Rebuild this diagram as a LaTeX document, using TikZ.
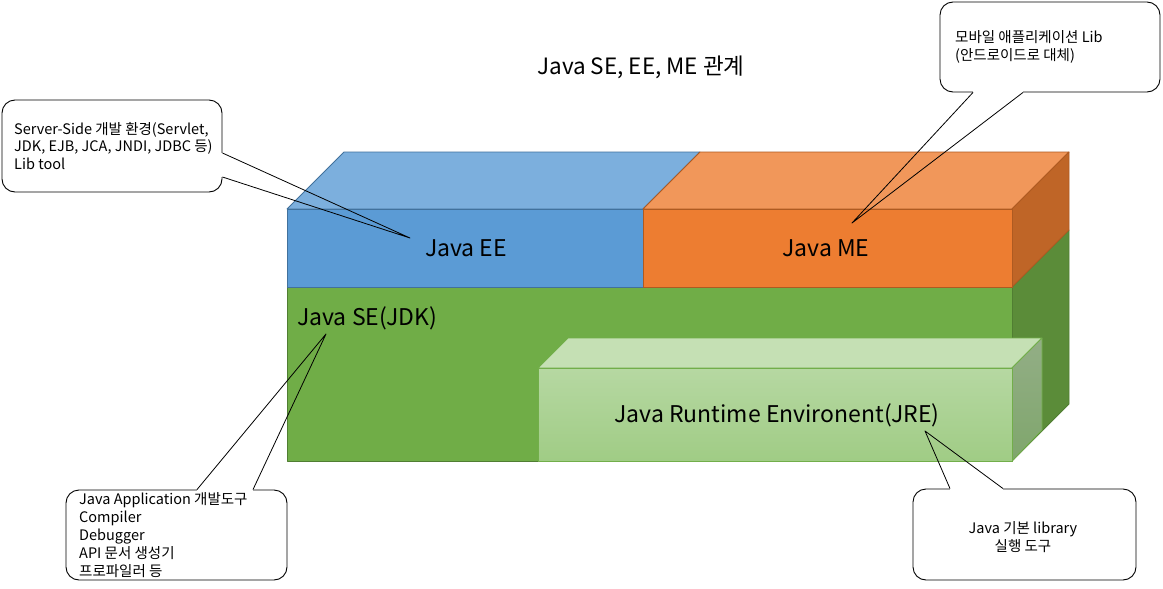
\documentclass[tikz,border=0pt]{standalone}
\usepackage{fontspec}
\setmainfont{Noto Sans CJK KR}
\usetikzlibrary{calc}
\definecolor{eefront}{HTML}{5B9BD5}
\definecolor{eetop}{HTML}{7CAFDD}
\definecolor{eeborder}{HTML}{41719C}
\definecolor{mefront}{HTML}{ED7D31}
\definecolor{metop}{HTML}{F1975A}
\definecolor{meside}{HTML}{BF6527}
\definecolor{meborder}{HTML}{AE5A21}
\definecolor{sefront}{HTML}{70AD47}
\definecolor{seside}{HTML}{5B8C39}
\definecolor{seborder}{HTML}{507E32}
\definecolor{jretopface}{HTML}{C5E0B4}
\definecolor{jrefrontA}{HTML}{B6D8A2}
\definecolor{jrefrontB}{HTML}{A0CC85}
\definecolor{jresideA}{HTML}{93AE86}
\definecolor{jresideB}{HTML}{7FA66C}
\definecolor{jreborder}{HTML}{72AE4A}
\begin{document}
\begin{tikzpicture}[x=1pt,y=-1pt,line join=round,
  face/.style={line width=0.8pt},
  lbl/.style={font=\fontsize{23}{27}\selectfont, inner sep=0pt, text=black},
  cbox/.style={draw=black, line width=0.9pt, fill=white, rounded corners=13pt, inner sep=0pt},
  ctext/.style={align=left, inner sep=0pt, font=\fontsize{14.5}{17.8}\selectfont, text=black},
  tail/.style={draw=black, line width=0.8pt}]
\useasboundingbox (0,0) rectangle (1163,589);
\fill[white] (0,0) rectangle (1163,589);

% Java SE box
\filldraw[face, fill=seside, draw=seborder] (1012,287) -- (1069,230) -- (1069,404) -- (1012,461) -- cycle;
\filldraw[face, fill=sefront, draw=seborder] (287,287) rectangle (1012,461);

% JRE box
\filldraw[face, fill=jretopface, draw=jreborder] (538,368) -- (568,338) -- (1042,338) -- (1012,368) -- cycle;
\shade[top color=jresideA, bottom color=jresideB] (1012,368) -- (1042,338) -- (1042,430) -- (1012,461) -- cycle;
\draw[face, draw=jreborder] (1012,368) -- (1042,338) -- (1042,430) -- (1012,461) -- cycle;
\shade[top color=jrefrontA, bottom color=jrefrontB] (538,368) rectangle (1012,461);
\draw[face, draw=jreborder] (538,368) rectangle (1012,461);

% Java EE box
\filldraw[face, fill=eetop, draw=eeborder] (287,209) -- (344,152) -- (700,152) -- (643,209) -- cycle;
\filldraw[face, fill=eefront, draw=eeborder] (287,209) rectangle (643,287);

% Java ME box
\filldraw[face, fill=metop, draw=meborder] (643,209) -- (700,152) -- (1069,152) -- (1012,209) -- cycle;
\filldraw[face, fill=meside, draw=meborder] (1012,209) -- (1069,152) -- (1069,230) -- (1012,287) -- cycle;
\filldraw[face, fill=mefront, draw=meborder] (643,209) rectangle (1012,287);

% labels
\node[font=\fontsize{22.5}{26}\selectfont, inner sep=0pt] (title) at (641,67) {Java SE, EE, ME 관계};
\node[lbl] (ee) at (466,248) {Java EE};
\node[lbl] (me) at (826,248) {Java ME};
\node[lbl, anchor=west] (se) at (297,318) {Java SE(JDK)};
\node[lbl] (jre) at (777,415) {Java Runtime Environent(JRE)};

% tail tips
\coordinate (eetip) at (410,238);
\coordinate (metip) at (852,223);
\coordinate (setip) at (326,334);
\coordinate (jretip) at (925,431);

% callout 1: Java EE
\node[cbox, minimum width=220pt, minimum height=92pt] (c1) at (112,146) {};
\node[ctext, anchor=west] (t1) at (14,146) {Server-Side 개발 환경(Servlet,\\JDK, EJB, JCA, JNDI, JDBC 등)\\Lib tool};
\coordinate (c1a) at ($(c1.east)+(0,7)$);
\coordinate (c1b) at ($(c1.east)+(0,31)$);
\fill[white] ($(c1a)+(-1.5,0)$) rectangle ($(c1b)+(1.5,0)$);
\draw[tail] (c1a) -- (eetip) -- (c1b);

% callout 2: Java ME
\node[cbox, minimum width=220pt, minimum height=90pt] (c2) at (1050,47) {};
\node[ctext, anchor=west] (t2) at (955,47) {모바일 애플리케이션 Lib\\(안드로이드로 대체)};
\coordinate (c2a) at ($(c2.south)+(-77,0)$);
\coordinate (c2b) at ($(c2.south)+(-27,0)$);
\fill[white] ($(c2a)+(0,-1.5)$) rectangle ($(c2b)+(0,1.5)$);
\draw[tail] (c2a) -- (metip) -- (c2b);

% callout 3: Java SE
\node[cbox, minimum width=221pt, minimum height=90pt] (c3) at (176.5,535) {};
\node[ctext, anchor=west] (t3) at (79,535) {Java Application 개발도구\\Compiler\\Debugger\\API 문서 생성기\\프로파일러 등};
\coordinate (c3a) at ($(c3.north)+(20.5,0)$);
\coordinate (c3b) at ($(c3.north)+(76.5,0)$);
\fill[white] ($(c3a)+(0,-1.5)$) rectangle ($(c3b)+(0,1.5)$);
\draw[tail] (c3a) -- (setip) -- (c3b);

% callout 4: JRE
\node[cbox, minimum width=223pt, minimum height=91pt] (c4) at (1024.5,534.5) {};
\node[ctext, align=center] (t4) at (1023,537) {Java 기본 library\\실행 도구};
\coordinate (c4a) at ($(c4.north)+(-74.5,0)$);
\coordinate (c4b) at ($(c4.north)+(-21.5,0)$);
\fill[white] ($(c4a)+(0,-1.5)$) rectangle ($(c4b)+(0,1.5)$);
\draw[tail] (c4a) -- (jretip) -- (c4b);
\end{tikzpicture}
\end{document}
